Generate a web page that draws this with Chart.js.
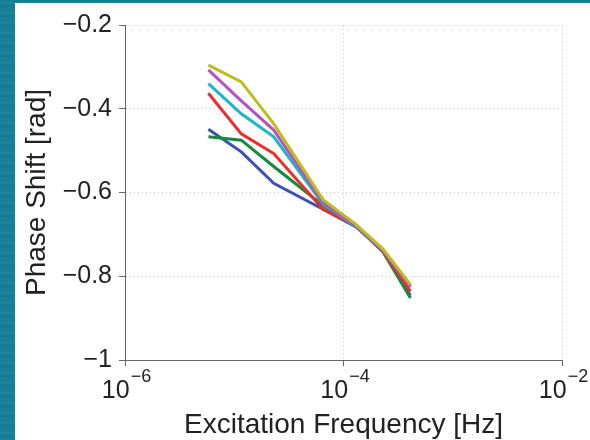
<!DOCTYPE html>
<html>
<head>
   <meta charset="utf-8">
   <script src="https://cdn.jsdelivr.net/npm/chart.js@4.4.0/dist/chart.umd.min.js"></script>
   <title>Phase Shift</title>
   <style>
      body {
         margin: 0;
         width: 590px;
         height: 440px;
         overflow: hidden;
         background: repeating-linear-gradient(180deg, #167c93 0px, #1b869c 3px, #157a90 6px, #19829a 10px);
      }
      #box {
         position: absolute;
         left: 15px;
         top: 3px;
         width: 575px;
         height: 437px;
         background: #fff;
      }
   </style>
</head>
<body>
<div id="box">
   <canvas id="phase-chart" width="575" height="437"></canvas>
</div>
<script>
   // excitation frequencies (Hz)
   const freq = [5.8e-6, 1.16e-5, 2.3e-5, 6.5e-5, 1.3e-4, 2.3e-4, 4.1e-4];

   // phase shift (rad) per curve
   const yellow  = [-0.296, -0.336, -0.436, -0.617, -0.676, -0.735, -0.820];
   const magenta = [-0.307, -0.381, -0.451, -0.624, -0.679, -0.738, -0.826];
   const cyan    = [-0.340, -0.412, -0.467, -0.628, -0.681, -0.738, -0.822];
   const red     = [-0.363, -0.460, -0.507, -0.640, -0.680, -0.740, -0.836];
   const green   = [-0.467, -0.475, -0.538, -0.631, -0.680, -0.742, -0.852];
   const blue    = [-0.449, -0.503, -0.578, -0.640, -0.682, -0.740, -0.846];

   const xTicks = [1e-6, 1e-4, 1e-2];
   const xTickBase = "10";
   const xTickExp = ["\u22126", "\u22124", "\u22122"];
   const yTicks = [-1, -0.8, -0.6, -0.4, -0.2];
   const yTickLabels = ["\u22121", "\u22120.8", "\u22120.6", "\u22120.4", "\u22120.2"];

   const FAMILY = "'Liberation Sans', Arial, sans-serif";

   function pts(vals) {
      return freq.map((f, i) => ({x: f, y: vals[i]}));
   }

   function line(vals, color) {
      return {
         data: pts(vals),
         borderColor: color,
         borderWidth: 3,
         pointRadius: 0,
         fill: false,
         tension: 0
      };
   }

   // draws 10 with a raised exponent under each x tick
   const powerLabels = {
      id: 'powerLabels',
      afterDraw(chart) {
         const s = chart.scales.x;
         const ctx = chart.ctx;
         const base = chart.chartArea.bottom + 38;
         ctx.save();
         ctx.fillStyle = "#222";
         ctx.textBaseline = "alphabetic";
         ctx.textAlign = "left";
         xTicks.forEach((v, i) => {
            const px = s.getPixelForValue(v);
            ctx.font = "25px " + FAMILY;
            const wb = ctx.measureText(xTickBase).width;
            ctx.font = "18px " + FAMILY;
            const we = ctx.measureText(xTickExp[i]).width;
            const left = px - (wb + we) / 2 + 1;
            ctx.font = "25px " + FAMILY;
            ctx.fillText(xTickBase, left, base);
            ctx.font = "18px " + FAMILY;
            ctx.fillText(xTickExp[i], left + wb + 1, base - 16);
         });
         ctx.restore();
      }
   };

   const tickFont = {family: FAMILY, size: 25};
   const titleFont = {family: FAMILY, size: 28};

   new Chart(document.getElementById("phase-chart"), {
      type: 'line',
      data: {
         datasets: [
            line(yellow, "#bdbd1e"),
            line(magenta, "#b653c2"),
            line(cyan, "#1bb6c8"),
            line(red, "#f22a2a"),
            line(green, "#168a3c"),
            line(blue, "#3c50b8")
         ]
      },
      plugins: [powerLabels],
      options: {
         responsive: false,
         animation: false,
         layout: { padding: { top: 19, right: 28, left: 0, bottom: 0 } },
         plugins: { legend: { display: false }, tooltip: { enabled: false } },
         scales: {
            x: {
               type: 'logarithmic',
               min: 1e-6,
               max: 1e-2,
               afterBuildTicks: s => { s.ticks = xTicks.map(v => ({value: v})); },
               afterFit: s => { s.height = 80; },
               ticks: {
                  font: tickFont,
                  padding: 8,
                  maxRotation: 0,
                  callback: () => ""
               },
               grid: { color: "#cccccc", tickColor: "#666", tickLength: 6 },
               border: { color: "#666", width: 1, dash: [1, 3] },
               title: {
                  display: true,
                  text: "Excitation Frequency [Hz]",
                  font: titleFont,
                  color: "#222",
                  padding: { top: 0, bottom: -2 }
               }
            },
            y: {
               min: -1,
               max: -0.2,
               afterBuildTicks: s => { s.ticks = yTicks.map(v => ({value: v})); },
               afterFit: s => { s.width = 110; },
               ticks: {
                  font: tickFont,
                  color: "#222",
                  padding: 7,
                  callback: (v, i) => yTickLabels[i]
               },
               grid: { color: "#cccccc", tickColor: "#666", tickLength: 6 },
               border: { color: "#666", width: 1, dash: [1, 3] },
               title: {
                  display: true,
                  text: "Phase Shift [rad]",
                  font: titleFont,
                  color: "#222",
                  padding: { top: 5, bottom: 0 }
               }
            }
         }
      }
   });
</script>
</body>
</html>
